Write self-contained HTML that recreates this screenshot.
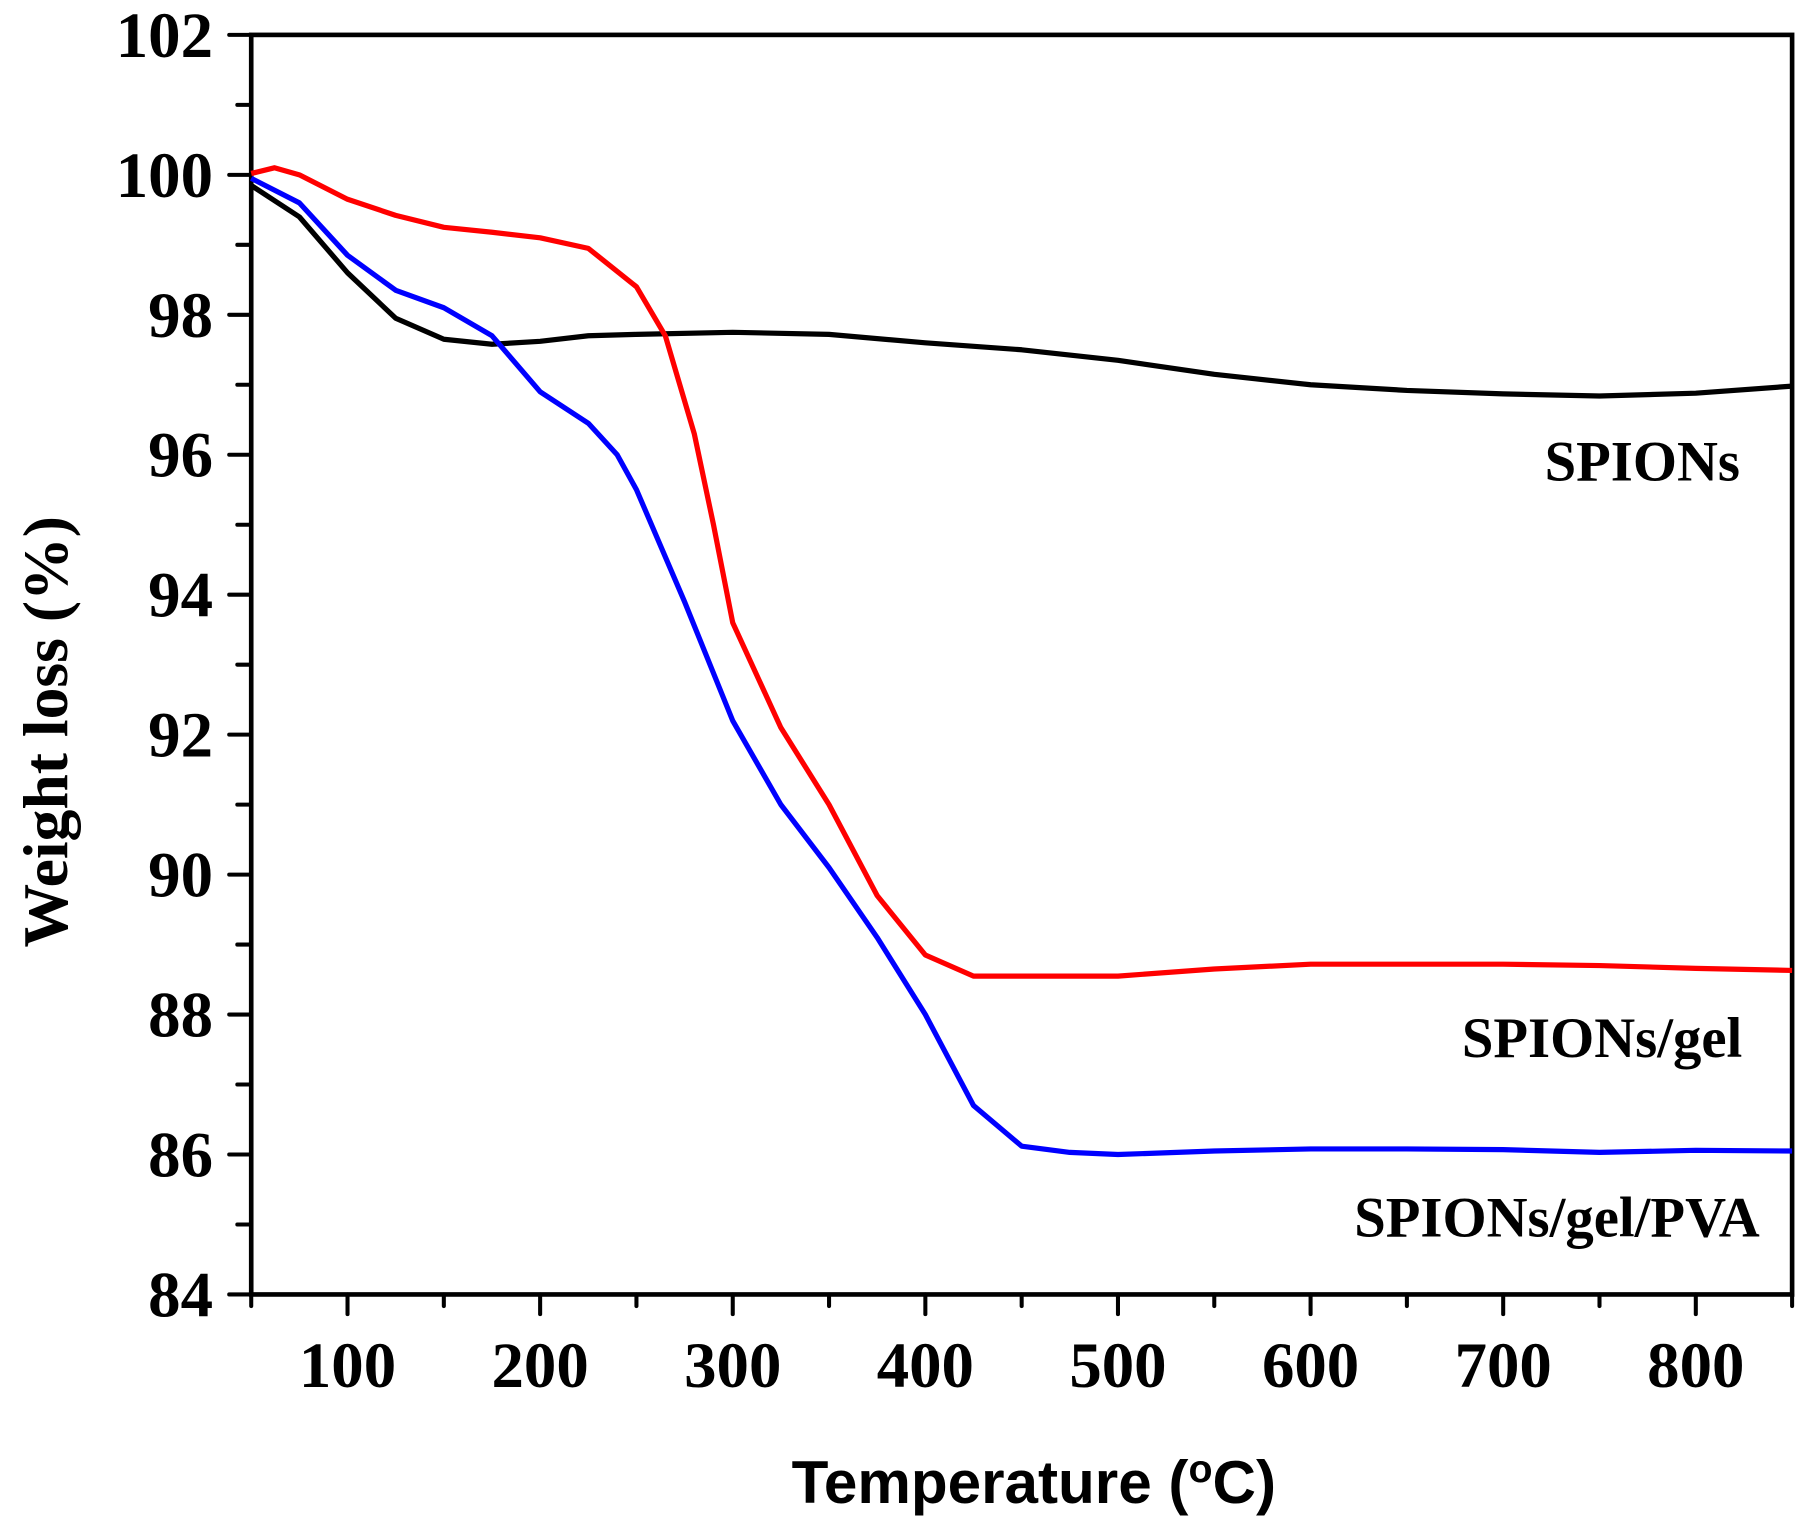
<!DOCTYPE html>
<html><head><meta charset="utf-8"><style>html,body{margin:0;padding:0;background:#fff}svg{display:block}</style></head>
<body>
<svg id="chart" width="1806" height="1525" viewBox="0 0 1560 1317" xmlns="http://www.w3.org/2000/svg">
<g id="axes"></g>
<g id="series"></g>
<text x="1503" y="415" text-anchor="end" font-family="Liberation Serif, serif" font-weight="bold" font-size="49">SPIONs</text>
<text x="1505" y="913" text-anchor="end" font-family="Liberation Serif, serif" font-weight="bold" font-size="49">SPIONs/gel</text>
<text x="1520" y="1068" text-anchor="end" font-family="Liberation Serif, serif" font-weight="bold" font-size="49">SPIONs/gel/PVA</text>
<text x="893" y="1298" text-anchor="middle" font-family="Liberation Sans, sans-serif" font-weight="bold" font-size="52">Temperature (<tspan dy="-18" font-size="34">o</tspan><tspan dy="18">C)</tspan></text>
<text transform="translate(58,632) rotate(-90)" text-anchor="middle" font-family="Liberation Serif, serif" font-weight="bold" font-size="55">Weight loss (%)</text>
</svg>
<script>
const xTicks = [100,200,300,400,500,600,700,800];
const yTicks = [84,86,88,90,92,94,96,98,100,102];
const tBlack = [50,75,100,125,150,175,200,225,250,300,350,400,450,500,550,600,650,700,750,800,850];
const vBlack = [99.85,99.4,98.6,97.95,97.65,97.58,97.62,97.7,97.72,97.75,97.72,97.6,97.5,97.35,97.15,97.0,96.92,96.87,96.84,96.88,96.98];
const tRed = [50,62,75,100,125,150,175,200,225,250,265,280,290,300,325,350,375,400,425,450,475,500,550,600,650,700,750,800,850];
const vRed = [100.02,100.1,100.0,99.65,99.42,99.25,99.18,99.1,98.95,98.4,97.7,96.3,95,93.6,92.1,91.0,89.7,88.85,88.55,88.55,88.55,88.55,88.65,88.72,88.72,88.72,88.7,88.66,88.63];
const tBlue = [50,75,100,125,150,175,200,225,240,250,275,300,325,350,375,400,425,450,475,500,550,600,650,700,750,800,850];
const vBlue = [99.95,99.6,98.85,98.35,98.1,97.7,96.9,96.45,96.0,95.5,93.9,92.2,91.0,90.1,89.1,88.0,86.7,86.12,86.03,86.0,86.05,86.08,86.08,86.07,86.03,86.06,86.05];

const L=217,R=1548,T=30,B=1118,X0=50,X1=850,Y0=84,Y1=102;
const sx=v=>L+(v-X0)/(X1-X0)*(R-L);
const sy=v=>B-(v-Y0)/(Y1-Y0)*(B-T);
const NS='http://www.w3.org/2000/svg';
const axes=document.getElementById('axes'), ser=document.getElementById('series');
function mk(tag,parent,attrs){const e=document.createElementNS(NS,tag);for(const k in attrs)e.setAttribute(k,attrs[k]);parent.appendChild(e);return e;}
const frame=mk('rect',axes,{x:L,y:T,width:R-L,height:B-T,fill:'none',stroke:'#000','stroke-width':4});


for(let v=Y0;v<=Y1;v+=1){
  const major=v%2===0;
  const t=mk('line',axes,{x1:L-(major?19:12),x2:L,y1:sy(v),y2:sy(v),stroke:'#000','stroke-width':3.5,'stroke-linecap':'round'});
  
  
}
yTicks.forEach(v=>{
  const t=mk('text',axes,{x:L-33,y:sy(v)+19,'text-anchor':'end','font-family':'Liberation Serif, serif','font-weight':'bold','font-size':56});
  t.textContent=v;
  
  
});
for(let v=X0;v<=X1;v+=50){
  const major=v%100===0;
  const t=mk('line',axes,{x1:sx(v),x2:sx(v),y1:B,y2:B+(major?17:10),stroke:'#000','stroke-width':3.5,'stroke-linecap':'round'});
  
  
}
xTicks.forEach(v=>{
  const t=mk('text',axes,{x:sx(v),y:1198,'text-anchor':'middle','font-family':'Liberation Serif, serif','font-weight':'bold','font-size':56});
  t.textContent=v;
  
  
});
function line(ts,vs,color,name){
  const d=ts.map((t,i)=>(i?'L':'M')+sx(t).toFixed(1)+','+sy(vs[i]).toFixed(1)).join(' ');
  const p=mk('path',ser,{d:d,fill:'none',stroke:color,'stroke-width':4.5,'stroke-linejoin':'round'});
  
  
}
line(tBlack,vBlack,'#000','series-spions');
line(tRed,vRed,'#ff0000','series-spions-gel');
line(tBlue,vBlue,'#0000ff','series-spions-gel-pva');
</script>
</body></html>
